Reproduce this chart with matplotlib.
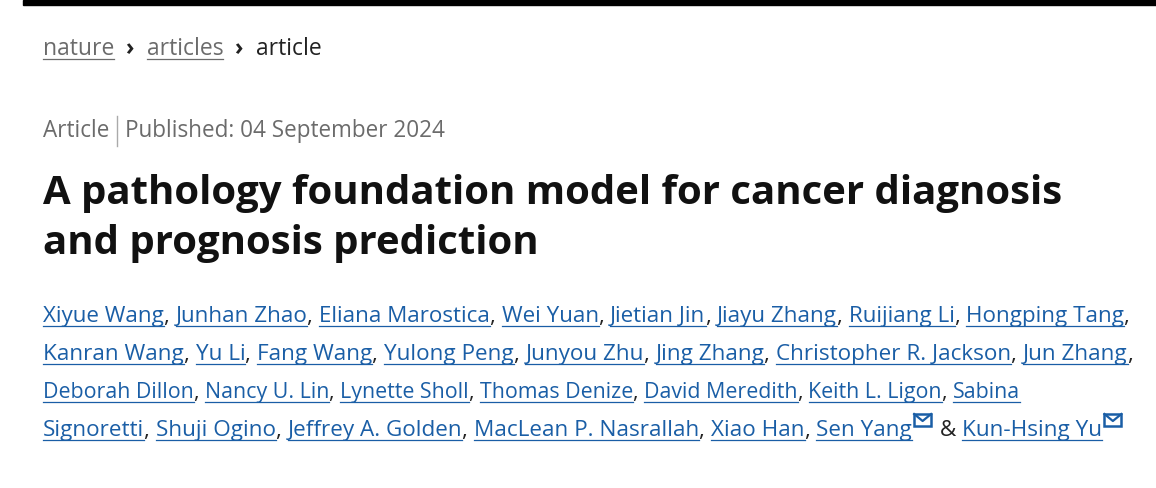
import matplotlib
matplotlib.use("Agg")
import matplotlib.pyplot as plt
from matplotlib.patches import Rectangle

crumbs = ["nature", "articles", "article"]
article_type = "Article"
published = "Published: 04 September 2024"
title_lines = ["A pathology foundation model for cancer diagnosis",
               "and prognosis prediction"]
author_lines = [
    ["Xiyue Wang", "Junhan Zhao", "Eliana Marostica", "Wei Yuan", "Jietian Jin",
     "Jiayu Zhang", "Ruijiang Li", "Hongping Tang"],
    ["Kanran Wang", "Yu Li", "Fang Wang", "Yulong Peng", "Junyou Zhu", "Jing Zhang",
     "Christopher R. Jackson", "Jun Zhang"],
    ["Deborah Dillon", "Nancy U. Lin", "Lynette Sholl", "Thomas Denize",
     "David Meredith", "Keith L. Ligon", "Sabina"],
    ["Signoretti", "Shuji Ogino", "Jeffrey A. Golden", "MacLean P. Nasrallah",
     "Xiao Han", "Sen Yang", "Kun-Hsing Yu"],
]
line_right = [1138, 1138, 1025, 1135]
line_base = [322, 360, 398, 436]

FONT = "Open Sans"
LINK = "#1a5ea6"
GRAY = "#6b6b6b"
DARK = "#222222"

fig = plt.figure(figsize=(11.56, 4.88), dpi=100)
ax = fig.add_axes([0, 0, 1, 1])
ax.set_xlim(0, 1156)
ax.set_ylim(488, 0)
ax.axis("off")
fig.canvas.draw()
renderer = fig.canvas.get_renderer()

# black bar across the top
ax.add_patch(Rectangle((23, 0), 1133, 5, color="black"))


def measure(s, size, weight="normal"):
    t = ax.text(0, 0, s, fontsize=size, family=FONT, fontweight=weight)
    w = t.get_window_extent(renderer).width
    t.remove()
    return w


def put(x, y, s, size, color, weight="normal", underline=False):
    t = ax.text(x, y, s, fontsize=size, color=color, fontweight=weight,
                family=FONT, va="baseline", ha="left")
    w = t.get_window_extent(renderer).width
    if underline:
        ax.plot([x, x + w], [y + 4, y + 4], color=color, lw=0.9)
    return x + w


def envelope(x, y):
    ax.add_patch(Rectangle((x, y - 22), 17, 12, fill=False, ec=LINK, lw=1.8))
    ax.plot([x, x + 8.5, x + 17], [y - 22, y - 15, y - 22], color=LINK, lw=1.6)
    return x + 20


# breadcrumb (fit to reference width 43..322)
bsize = 12.5 * (322 - 43) / (sum(measure(c, 12.5) for c in crumbs)
                              + 2 * measure("  ›  ", 12.5, "bold"))
x = 43
for i, c in enumerate(crumbs):
    last = i == len(crumbs) - 1
    x = put(x, 55, c, bsize, DARK if last else GRAY, underline=not last)
    if not last:
        x = put(x, 55, "  ›  ", bsize, DARK, weight="bold")

# article type / date (fit to 43..447)
dsize = 11.5 * (447 - 43 - 16) / (measure(article_type, 11.5) + measure(published, 11.5))
x = put(43, 137, article_type, dsize, GRAY)
ax.plot([x + 8, x + 8], [116, 146], color="#aaaaaa", lw=1)
put(x + 16, 137, published, dsize, GRAY)

# title (fit to 43..1065)
tsize = 22.5 * (1065 - 43) / measure(title_lines[0], 22.5, "bold")
put(43, 204, title_lines[0], tsize, "#111111", weight="bold")
put(43, 254, title_lines[1], tsize, "#111111", weight="bold")

# authors, scaled so each line fits its width
for li, names in enumerate(author_lines):
    last_line = li == len(author_lines) - 1
    base = 12.5
    total = 0
    for j, n in enumerate(names):
        total += measure(n, base)
        if last_line and j == len(names) - 2:
            total += 20 + measure(" & ", base)
        elif j < len(names) - 1 or li < 2:
            total += measure(", ", base)
    if last_line:
        total += 22
    size = base * (line_right[li] - 43) / total
    x = 43
    y = line_base[li]
    for j, n in enumerate(names):
        x = put(x, y, n, size, LINK, underline=True)
        if last_line and j >= len(names) - 2:
            x = envelope(x + 2, y)
            if j == len(names) - 2:
                x = put(x, y, " & ", size, DARK)
        elif j < len(names) - 1 or li < 2:
            x = put(x, y, ", ", size, DARK)

fig.savefig("out.png", dpi=100)
